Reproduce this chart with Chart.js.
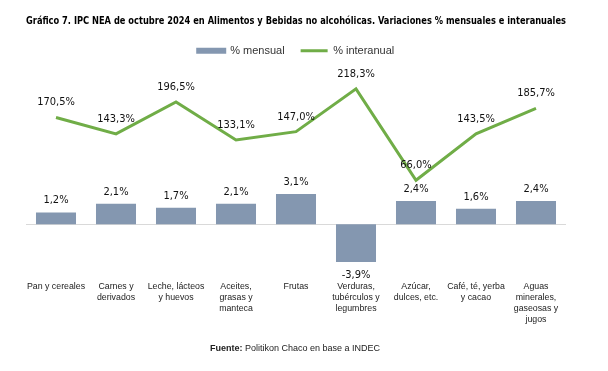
<!DOCTYPE html>
<html>
<head>
<meta charset="utf-8">
<script src="https://cdn.jsdelivr.net/npm/chart.js@4.4.1/dist/chart.umd.min.js"></script>
<style>
  body { margin: 0; background: #fff; }
  #wrap { position: relative; width: 608px; height: 371px; }
  #fuente {
    position: absolute; left: 0; top: 343px; width: 590px;
    text-align: center; font: 9px "Liberation Sans", Arial, sans-serif; color: #222;
  }
</style>
</head>
<body>
<div id="wrap">
  <canvas id="myChart" width="608" height="371"></canvas>
  <div id="fuente"><b>Fuente:</b> Politikon Chaco en base a INDEC</div>
</div>
<script>
const categories = [
  ["Pan y cereales"],
  ["Carnes y", "derivados"],
  ["Leche, lácteos", "y huevos"],
  ["Aceites,", "grasas y", "manteca"],
  ["Frutas"],
  ["Verduras,", "tubérculos y", "legumbres"],
  ["Azúcar,", "dulces, etc."],
  ["Café, té, yerba", "y cacao"],
  ["Aguas", "minerales,", "gaseosas y", "jugos"],
];
const mensual = [1.2, 2.1, 1.7, 2.1, 3.1, -3.9, 2.4, 1.6, 2.4];
const interanual = [170.5, 143.3, 196.5, 133.1, 147.0, 218.3, 66.0, 143.5, 185.7];

const narrow = '"Liberation Sans Narrow", "DejaVu Sans Condensed", "Liberation Sans", sans-serif';
const fmt = (v) => v.toFixed(1).replace(".", ",") + "%";

// zero line + value labels
const extras = {
  id: "extras",
  beforeDatasetsDraw(chart) {
    const { ctx, chartArea, scales } = chart;
    const y0 = Math.round(scales.y.getPixelForValue(0)) + 0.5;
    ctx.save();
    ctx.strokeStyle = "#d9d9d9";
    ctx.lineWidth = 1;
    ctx.beginPath();
    ctx.moveTo(chartArea.left, y0);
    ctx.lineTo(chartArea.right, y0);
    ctx.stroke();
    ctx.restore();
  },
  afterDatasetsDraw(chart) {
    const { ctx } = chart;
    ctx.save();
    ctx.font = "11px " + narrow;
    ctx.fillStyle = "#111";
    ctx.textAlign = "center";
    ctx.textBaseline = "middle";
    chart.data.datasets.forEach((ds, i) => {
      const meta = chart.getDatasetMeta(i);
      meta.data.forEach((el, j) => {
        const v = ds.data[j];
        let y;
        if (ds.type === "bar") {
          y = v >= 0 ? el.y - 12 : el.y + 13;
        } else {
          y = el.y - 15;
        }
        ctx.fillText(fmt(v), el.x, y);
      });
    });
    ctx.restore();
  },
};

const ctx = document.getElementById("myChart").getContext("2d");

const data = {
  labels: categories,
  datasets: [
    {
      type: "bar",
      label: "% mensual",
      data: mensual,
      backgroundColor: "#8497B0",
      yAxisID: "y",
      barPercentage: 0.667,
      categoryPercentage: 1,
      order: 2,
    },
    {
      type: "line",
      label: "% interanual",
      data: interanual,
      borderColor: "#70AD47",
      backgroundColor: "#70AD47",
      borderWidth: 3,
      pointRadius: 0,
      tension: 0,
      yAxisID: "y2",
      order: 1,
    },
  ],
};

const config = {
  data: data,
  plugins: [extras],
  options: {
    responsive: false,
    animation: false,
    layout: {
      padding: { left: 26, right: 42, top: 0, bottom: 41 },
    },
    plugins: {
      title: {
        display: true,
        text: "Gráfico 7. IPC NEA de octubre 2024 en Alimentos y Bebidas no alcohólicas. Variaciones % mensuales e interanuales",
        color: "#000",
        font: { family: narrow, size: 11, weight: "bold" },
        padding: { top: 15, bottom: 1 },
      },
      legend: {
        position: "top",
        labels: {
          color: "#333",
          font: { family: '"Liberation Sans", Arial, sans-serif', size: 11 },
          boxWidth: 27,
          boxHeight: 3,
          padding: 16,
          generateLabels(chart) {
            return chart.data.datasets.map((ds, i) => ({
              text: ds.label,
              fillStyle: ds.type === "bar" ? ds.backgroundColor : ds.borderColor,
              strokeStyle: ds.type === "bar" ? ds.backgroundColor : ds.borderColor,
              lineWidth: ds.type === "bar" ? 3 : 0,
              fontColor: "#333",
              datasetIndex: i,
              hidden: false,
            }));
          },
        },
      },
      tooltip: { enabled: false },
    },
    scales: {
      x: {
        grid: { display: false, drawTicks: false },
        border: { display: false },
        ticks: {
          color: "#222",
          padding: 5,
          maxRotation: 0,
          autoSkip: false,
          font: { family: '"Liberation Sans", Arial, sans-serif', size: 8.8, lineHeight: "11px" },
        },
      },
      y: {
        display: false,
        min: -5.33,
        max: 16.26,
      },
      y2: {
        display: false,
        min: -93.5,
        max: 256.1,
      },
    },
  },
};

const myChart = new Chart(ctx, config);
</script>
</body>
</html>
